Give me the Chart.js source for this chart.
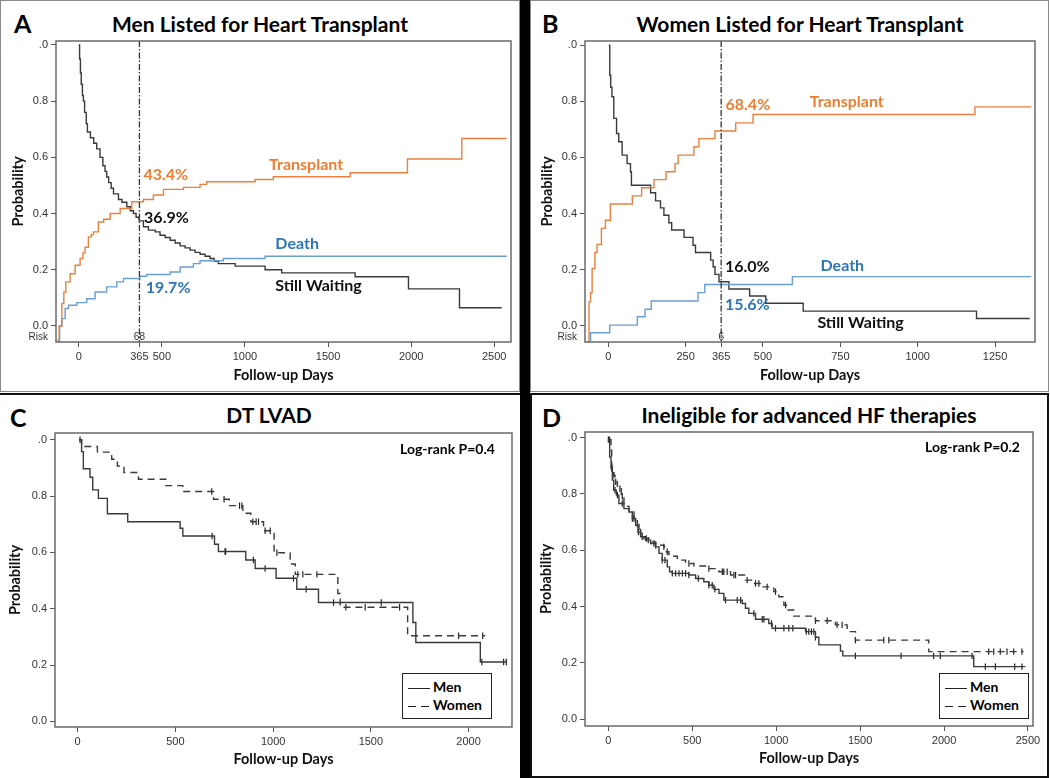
<!DOCTYPE html>
<html>
<head>
<meta charset="utf-8">
<script src="https://cdn.jsdelivr.net/npm/chart.js@4.4.1/dist/chart.umd.min.js"></script>
<style>
  body { margin: 0; width: 1050px; height: 778px; position: relative; background: #fff; overflow: hidden; font-family: Lato, "Open Sans", sans-serif; }
  .box { position: absolute; box-sizing: border-box; }
  canvas { position: absolute; }
  .letter { position: absolute; font: bold 25px Lato, sans-serif; color: #000; line-height: 1; }
  .title { position: absolute; font: bold 21px Lato, sans-serif; color: #000; line-height: 1; text-align: center; white-space: nowrap; }
  .logrank { position: absolute; font: bold 14px Lato, sans-serif; color: #000; line-height: 1; white-space: nowrap; }
  .legend { position: absolute; box-sizing: border-box; border: 1.5px solid #222; background: #fff; font: bold 14px Lato, sans-serif; }
  .legend div { position: absolute; left: 5px; height: 16px; line-height: 16px; white-space: nowrap; }
  .legend .sw { display: inline-block; width: 22px; height: 1.5px; vertical-align: middle; margin-right: 3px; background: #222; }
  .legend .dash { background: repeating-linear-gradient(to right, #222 0 8px, transparent 8px 13px); }
</style>
</head>
<body>
<div class="box" style="left:0;top:0;width:520px;height:392px;border:1.5px solid #8a8a8a;"></div>
<div class="box" style="left:530px;top:0;width:519px;height:392px;border:1.5px solid #8a8a8a;"></div>
<div class="box" style="left:0;top:393px;width:520px;height:385px;border-top:2px solid #111;"></div>
<div class="box" style="left:530px;top:393px;width:519px;height:385px;border:2px solid #111;"></div>
<div class="box" style="left:520px;top:0;width:10px;height:778px;background:#000;"></div>

<div class="letter" style="left:14px;top:11px;">A</div>
<div class="title" style="left:60px;width:400px;top:13px;">Men Listed for Heart Transplant</div>
<div class="letter" style="left:542px;top:11px;">B</div>
<div class="title" style="left:600px;width:400px;top:13px;">Women Listed for Heart Transplant</div>
<div class="letter" style="left:10px;top:405px;">C</div>
<div class="title" style="left:69px;width:400px;top:404px;">DT LVAD</div>
<div class="letter" style="left:542px;top:405px;">D</div>
<div class="title" style="left:609px;width:400px;top:404px;">Ineligible for advanced HF therapies</div>

<canvas id="chartA" width="520" height="392" style="left:0;top:0;"></canvas>
<canvas id="chartB" width="520" height="392" style="left:530px;top:0;"></canvas>
<canvas id="chartC" width="520" height="385" style="left:0;top:393px;"></canvas>
<canvas id="chartD" width="520" height="385" style="left:530px;top:393px;"></canvas>

<div class="logrank" style="left:400px;top:442px;">Log-rank P=0.4</div>
<div class="logrank" style="left:925px;top:440px;">Log-rank P=0.2</div>
<div class="legend" style="left:402px;top:673px;width:90px;height:46px;">
  <div style="top:5px;"><span class="sw"></span>Men</div>
  <div style="top:23px;"><span class="sw dash"></span>Women</div>
</div>
<div class="legend" style="left:939px;top:673px;width:90px;height:46px;">
  <div style="top:5px;"><span class="sw"></span>Men</div>
  <div style="top:23px;"><span class="sw dash"></span>Women</div>
</div>

<script>
// Panel A: men listed for heart transplant
const aWaitDays = [0, 5, 10, 15, 22, 28, 35, 45, 52, 70, 90, 108, 128, 145, 158, 168, 180, 195, 209, 239, 260, 289, 310, 329, 345, 363, 389, 419, 460, 489, 520, 550, 580, 610, 640, 670, 700, 730, 760, 790, 815, 840, 941, 1121, 1221, 1663, 1984, 2291, 2545];
const aWaitProb = [1.0, 0.95, 0.90, 0.86, 0.82, 0.80, 0.76, 0.72, 0.69, 0.67, 0.65, 0.63, 0.60, 0.57, 0.55, 0.53, 0.51, 0.49, 0.47, 0.45, 0.44, 0.424, 0.41, 0.40, 0.387, 0.374, 0.353, 0.341, 0.335, 0.323, 0.315, 0.305, 0.295, 0.285, 0.278, 0.27, 0.262, 0.255, 0.248, 0.24, 0.23, 0.222, 0.213, 0.20, 0.189, 0.175, 0.132, 0.065, 0.065];
const aTxDays = [-132, -118, -102, -90, -78, -52, -22, 8, 25, 38, 58, 75, 88, 118, 150, 189, 249, 319, 389, 449, 510, 630, 730, 770, 1061, 1171, 1633, 1978, 2305, 2575];
const aTxProb = [-0.057, 0.0, 0.08, 0.12, 0.157, 0.186, 0.216, 0.24, 0.26, 0.28, 0.317, 0.325, 0.335, 0.37, 0.38, 0.40, 0.418, 0.442, 0.45, 0.466, 0.486, 0.493, 0.504, 0.513, 0.521, 0.531, 0.545, 0.594, 0.667, 0.667];
const aDeathDays = [-128, -115, -102, -82, -62, -12, 48, 98, 168, 229, 269, 369, 409, 550, 610, 690, 730, 870, 1121, 2575];
const aDeathProb = [-0.05, 0.0, 0.026, 0.062, 0.074, 0.083, 0.097, 0.121, 0.139, 0.157, 0.169, 0.177, 0.183, 0.192, 0.21, 0.222, 0.232, 0.24, 0.248, 0.248];
const aXTicks = [0, 365, 500, 1000, 1500, 2000, 2500];

// Panel B: women listed for heart transplant
const bWaitDays = [2, 5, 8, 12, 18, 27, 34, 45, 61, 72, 75, 137, 153, 169, 180, 196, 205, 245, 274, 282, 331, 339, 345, 358, 390, 457, 509, 630, 1190, 1362];
const bWaitProb = [1.0, 0.893, 0.85, 0.816, 0.739, 0.685, 0.656, 0.608, 0.578, 0.549, 0.501, 0.474, 0.445, 0.420, 0.394, 0.367, 0.341, 0.315, 0.287, 0.261, 0.234, 0.21, 0.183, 0.157, 0.131, 0.106, 0.080, 0.052, 0.026, 0.026];
const bTxDays = [-67, -62, -57, -52, -43, -36, -22, -9, 7, 78, 108, 148, 187, 216, 226, 277, 293, 345, 412, 468, 1185, 1367];
const bTxProb = [-0.057, 0.086, 0.118, 0.204, 0.261, 0.29, 0.347, 0.376, 0.434, 0.463, 0.492, 0.521, 0.549, 0.578, 0.608, 0.638, 0.667, 0.694, 0.723, 0.753, 0.780, 0.780];
const bDeathDays = [-67, -57, 5, 94, 119, 139, 290, 312, 595, 1367];
const bDeathProb = [-0.057, -0.025, 0.002, 0.032, 0.059, 0.088, 0.118, 0.147, 0.175, 0.175];
const bXTicks = [0, 250, 365, 500, 750, 1000, 1250];

// Panel C: DT LVAD survival
const cMenDays = [7, 20, 29, 63, 77, 106, 152, 256, 524, 538, 700, 720, 860, 908, 1015, 1121, 1232, 1715, 1730, 2060, 2196];
const cMenProb = [1.0, 0.958, 0.897, 0.867, 0.822, 0.792, 0.737, 0.709, 0.686, 0.658, 0.629, 0.603, 0.573, 0.543, 0.508, 0.469, 0.422, 0.351, 0.280, 0.211, 0.211];
const cWomenDays = [7, 20, 101, 174, 203, 237, 311, 451, 538, 695, 776, 845, 886, 951, 1005, 1087, 1113, 1331, 1343, 1688, 2085];
const cWomenProb = [1.0, 0.976, 0.956, 0.931, 0.907, 0.884, 0.860, 0.837, 0.816, 0.789, 0.766, 0.739, 0.709, 0.677, 0.599, 0.559, 0.522, 0.454, 0.405, 0.304, 0.304];
const cMenCensor = [688, 754, 757, 899, 959, 1104, 1169, 1309, 1553, 2068, 2179, 2193];
const cWomenCensor = [12, 686, 749, 828, 840, 896, 913, 925, 959, 985, 1019, 1126, 1152, 1224, 1372, 1471, 1647, 1949, 2072];
const cXTicks = [0, 500, 1000, 1500, 2000];

// Panel D: ineligible for advanced HF therapies
const dMenDays = [0, 8, 16, 24, 32, 48, 63, 93, 123, 143, 163, 177, 192, 222, 252, 282, 302, 321, 351, 365, 381, 480, 520, 569, 599, 629, 659, 688, 798, 817, 837, 877, 956, 976, 1175, 1234, 1254, 1383, 1397, 2177, 2484];
const dMenProb = [0.993, 0.931, 0.890, 0.849, 0.813, 0.796, 0.766, 0.748, 0.736, 0.713, 0.689, 0.665, 0.648, 0.636, 0.624, 0.612, 0.589, 0.565, 0.541, 0.524, 0.518, 0.512, 0.500, 0.488, 0.476, 0.461, 0.447, 0.423, 0.411, 0.394, 0.376, 0.355, 0.340, 0.323, 0.311, 0.291, 0.264, 0.242, 0.225, 0.187, 0.187];
const dWomenDays = [8, 16, 20, 30, 40, 54, 77, 93, 123, 153, 173, 192, 212, 242, 282, 331, 345, 361, 411, 460, 510, 579, 659, 728, 817, 857, 917, 986, 1016, 1046, 1065, 1105, 1234, 1353, 1423, 1472, 1909, 2474];
const dWomenProb = [0.993, 0.955, 0.896, 0.866, 0.843, 0.819, 0.792, 0.756, 0.736, 0.713, 0.683, 0.660, 0.642, 0.630, 0.618, 0.612, 0.595, 0.579, 0.565, 0.553, 0.544, 0.535, 0.524, 0.512, 0.494, 0.482, 0.470, 0.453, 0.435, 0.405, 0.388, 0.366, 0.350, 0.335, 0.311, 0.281, 0.240, 0.240];
const dMenCensor = [0, 20, 40, 54, 83, 143, 179, 202, 238, 272, 321, 337, 381, 401, 421, 441, 460, 480, 536, 599, 619, 635, 698, 768, 788, 867, 917, 927, 972, 996, 1046, 1075, 1099, 1179, 1194, 1210, 1224, 1234, 1472, 1744, 1938, 1978, 2167, 2246, 2306, 2421, 2464];
const dWomenCensor = [8, 20, 34, 44, 69, 83, 153, 183, 192, 226, 282, 331, 351, 480, 599, 679, 688, 708, 748, 758, 827, 877, 897, 946, 996, 1056, 1234, 1304, 1363, 1393, 1472, 1641, 1671, 2266, 2296, 2335, 2375, 2415, 2464];
const dXTicks = [0, 500, 1000, 1500, 2000, 2500];

const yTicks = [0, 0.2, 0.4, 0.6, 0.8, 1.0];
const yTickLabels = ['0.0', '0.2', '0.4', '0.6', '0.8', '.0'];

const ORANGE = '#E8813F', BLUE = '#6A9FD4', DARK = '#3a3a3a';
const ORANGE_TXT = '#ED7D31', BLUE_TXT = '#2E75B6';

const pts = (days, probs) => days.map((d, i) => ({ x: d, y: probs[i] }));
// value of a step curve at a given day, used to place censor ticks on their curve
function stepAt(days, probs, day) {
  let v = probs[0];
  for (let i = 0; i < days.length; i++) if (days[i] <= day) v = probs[i];
  return v;
}

function curve(days, probs, color, dash) {
  return { data: pts(days, probs), borderColor: color, borderWidth: 1.4, stepped: true, pointRadius: 0, fill: false, borderDash: dash || [] };
}
function censors(censorDays, days, probs) {
  return {
    data: censorDays.map(d => ({ x: d, y: stepAt(days, probs, d) })),
    showLine: false, pointStyle: 'line', pointRotation: 90, pointRadius: 3.2,
    pointBorderColor: '#222', pointBorderWidth: 1.2, borderColor: '#222',
  };
}

const kmDecor = {
  id: 'kmDecor',
  afterDatasetsDraw(chart, args, opts) {
    const { ctx, chartArea: a, scales: { x, y } } = chart;
    ctx.save();
    if (opts.vline != null) {
      const vx = x.getPixelForValue(opts.vline);
      ctx.strokeStyle = '#333';
      ctx.lineWidth = 1.3;
      ctx.setLineDash([6, 2, 1.5, 2]);
      ctx.beginPath();
      ctx.moveTo(vx, a.top);
      ctx.lineTo(vx, a.bottom);
      ctx.stroke();
      ctx.setLineDash([]);
    }
    ctx.strokeStyle = '#6a6a6a';
    ctx.lineWidth = 1.5;
    ctx.strokeRect(a.left, a.top, a.right - a.left, a.bottom - a.top);
    (opts.notes || []).forEach(n => {
      ctx.font = 'bold 16px Lato, sans-serif';
      ctx.fillStyle = n.color;
      ctx.textAlign = 'left';
      ctx.textBaseline = 'middle';
      ctx.fillText(n.text, x.getPixelForValue(n.day), y.getPixelForValue(n.p));
    });
    if (opts.risk) {
      ctx.font = '10px "Liberation Sans", Arial, sans-serif';
      ctx.fillStyle = '#333';
      ctx.textBaseline = 'middle';
      ctx.textAlign = 'right';
      ctx.fillText('Risk', a.left - 8, a.bottom - 5);
      ctx.textAlign = 'center';
      ctx.fillText(opts.risk.count, x.getPixelForValue(opts.risk.day), a.bottom - 5);
    }
    ctx.restore();
  }
};

function kmChart(id, cfg) {
  const tickFont = { family: '"Liberation Sans", Arial, sans-serif', size: 11 };
  const titleFont = { family: 'Lato, sans-serif', size: 14.5, weight: 'bold' };
  new Chart(document.getElementById(id), {
    type: 'line',
    data: { datasets: cfg.datasets },
    options: {
      responsive: false,
      animation: false,
      layout: { padding: { top: cfg.pad[0], right: cfg.pad[1], bottom: 0, left: 0 } },
      plugins: { legend: { display: false }, tooltip: { enabled: false }, kmDecor: cfg.decor },
      scales: {
        x: {
          type: 'linear', min: cfg.xRange[0], max: cfg.xRange[1],
          afterBuildTicks: s => { s.ticks = cfg.xTicks.map(v => ({ value: v })); },
          afterFit: s => { s.height = cfg.xH; },
          ticks: { autoSkip: false, maxRotation: 0, color: '#333', font: tickFont, padding: 3, callback: v => String(v) },
          grid: { drawOnChartArea: false, drawTicks: true, tickLength: 5, color: '#555' },
          border: { display: false },
          title: { display: true, text: 'Follow-up Days', color: '#111', font: titleFont, padding: { top: 0, bottom: cfg.xTitlePad } },
        },
        y: {
          min: cfg.yRange[0], max: cfg.yRange[1],
          afterBuildTicks: s => { s.ticks = yTicks.map(v => ({ value: v })); },
          afterFit: s => { s.width = cfg.yW; },
          ticks: { color: '#333', font: tickFont, padding: 3, callback: (v, i) => yTickLabels[i] },
          grid: { drawOnChartArea: false, drawTicks: true, tickLength: 5, color: '#555' },
          border: { display: false },
          title: { display: true, text: 'Probability', color: '#111', font: titleFont, padding: { top: cfg.yTitlePad, bottom: 0 } },
        },
      },
    },
    plugins: [kmDecor],
  });
}

kmChart('chartA', {
  datasets: [
    curve(aTxDays, aTxProb, ORANGE),
    curve(aDeathDays, aDeathProb, BLUE),
    curve(aWaitDays, aWaitProb, DARK),
  ],
  xRange: [-137, 2601], yRange: [-0.057, 1.014], xTicks: aXTicks,
  pad: [41, 9], yW: 56, xH: 50, yTitlePad: 10, xTitlePad: 8,
  decor: {
    vline: 365,
    risk: { day: 365, count: '68' },
    notes: [
      { text: '43.4%', color: ORANGE_TXT, day: 389, p: 0.537 },
      { text: 'Transplant', color: ORANGE_TXT, day: 1145, p: 0.575 },
      { text: '36.9%', color: '#111', day: 393, p: 0.386 },
      { text: 'Death', color: BLUE_TXT, day: 1183, p: 0.291 },
      { text: '19.7%', color: BLUE_TXT, day: 403, p: 0.137 },
      { text: 'Still Waiting', color: '#111', day: 1183, p: 0.142 },
    ],
  },
});

kmChart('chartB', {
  datasets: [
    curve(bTxDays, bTxProb, ORANGE),
    curve(bDeathDays, bDeathProb, BLUE),
    curve(bWaitDays, bWaitProb, DARK),
  ],
  xRange: [-75, 1379], yRange: [-0.058, 1.015], xTicks: bXTicks,
  pad: [41, 15], yW: 55, xH: 50, yTitlePad: 8.6, xTitlePad: 8,
  decor: {
    vline: 365,
    risk: { day: 365, count: '6' },
    notes: [
      { text: '68.4%', color: ORANGE_TXT, day: 379, p: 0.786 },
      { text: 'Transplant', color: ORANGE_TXT, day: 651, p: 0.798 },
      { text: '16.0%', color: '#111', day: 377, p: 0.21 },
      { text: 'Death', color: BLUE_TXT, day: 686, p: 0.214 },
      { text: '15.6%', color: BLUE_TXT, day: 377, p: 0.076 },
      { text: 'Still Waiting', color: '#111', day: 676, p: 0.012 },
    ],
  },
});

kmChart('chartC', {
  datasets: [
    curve(cMenDays, cMenProb, DARK),
    curve(cWomenDays, cWomenProb, DARK, [7, 5]),
    censors(cMenCensor, cMenDays, cMenProb),
    censors(cWomenCensor, cWomenDays, cWomenProb),
  ],
  xRange: [-116, 2222], yRange: [-0.02, 1.024], xTicks: cXTicks,
  pad: [40, 8], yW: 55, xH: 51, yTitlePad: 6.3, xTitlePad: 9.6,
  decor: {},
});

kmChart('chartD', {
  datasets: [
    curve(dMenDays, dMenProb, DARK),
    curve(dWomenDays, dWomenProb, DARK, [7, 5]),
    censors(dMenCensor, dMenDays, dMenProb),
    censors(dWomenCensor, dWomenDays, dWomenProb),
  ],
  xRange: [-139, 2530], yRange: [-0.024, 1.02], xTicks: dXTicks,
  pad: [39, 17], yW: 55, xH: 52, yTitlePad: 7.6, xTitlePad: 11.3,
  decor: {},
});
</script>
</body>
</html>
